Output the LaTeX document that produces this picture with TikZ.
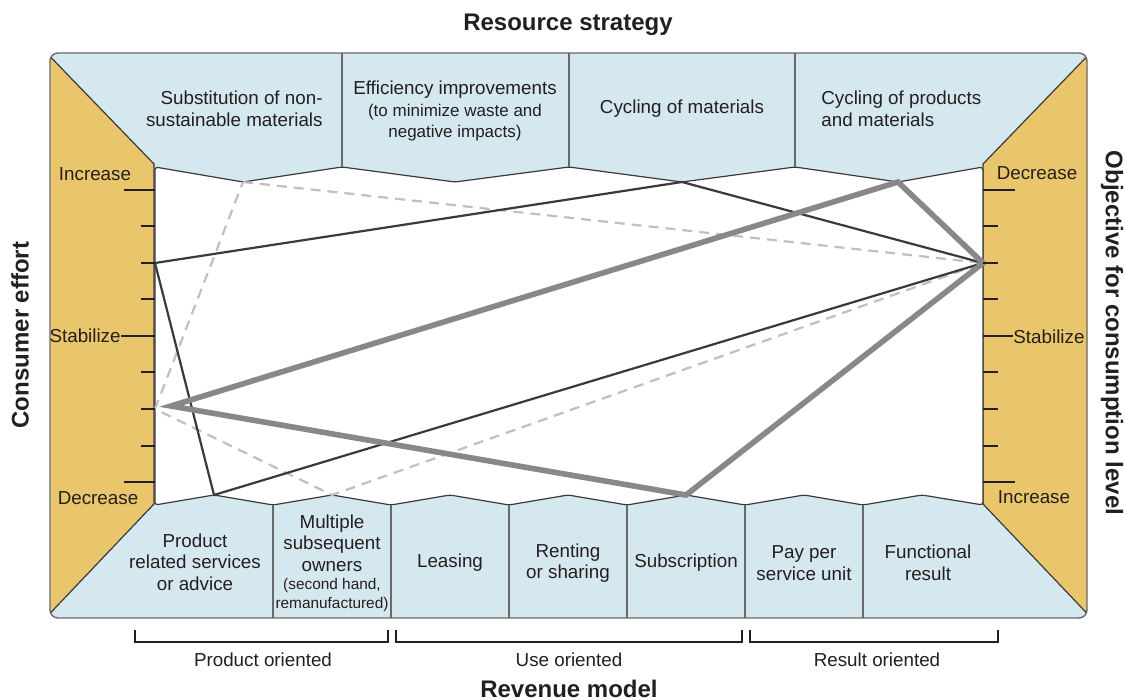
\documentclass[tikz,border=0pt]{standalone}
\usepackage{fontspec}
\setmainfont{Liberation Sans}
\definecolor{bandblue}{RGB}{214,232,239}
\definecolor{effortgold}{RGB}{233,198,107}
\definecolor{framegray}{RGB}{105,105,105}
\definecolor{darkline}{RGB}{58,58,58}
\definecolor{thickgray}{RGB}{136,136,136}
\definecolor{dashgray}{RGB}{192,192,192}
\definecolor{inkblack}{RGB}{35,31,32}

\begin{document}
\begin{tikzpicture}[x=0.5pt,y=-0.5pt,
	lbl/.style={font=\fontsize{9.4}{10.8}\selectfont,text=inkblack,align=center,inner sep=0pt,yshift=-1pt},
	axtitle/.style={font=\fontsize{12}{14}\bfseries\selectfont,text=inkblack,inner sep=0pt},
	sep/.style={draw=framegray,line width=0.6pt},
	tick/.style={draw=inkblack,line width=1pt},
	bracket/.style={draw=inkblack,line width=0.7pt},
	oldpath/.style={draw=dashgray,line width=1.1pt,dash pattern=on 5pt off 3.5pt,line join=round},
	basepath/.style={draw=darkline,line width=1.1pt,line join=round},
	newpath/.style={draw=thickgray,line width=2.8pt,line join=miter}]
	\useasboundingbox (0,0) rectangle (1125,700);
	\foreach \i in {0,...,8} {
		\coordinate (l\i) at (155,190+36.5*\i);
		\coordinate (r\i) at (983,190+36.5*\i);
	}
	\coordinate (t1) at (243,182);
	\coordinate (t2) at (455,182);
	\coordinate (t3) at (682,182);
	\coordinate (t4) at (898,182);
	\foreach \j in {1,...,7}
		\coordinate (b\j) at (96+118*\j,495);
	\coordinate (n6) at (171,406);
	\fill[bandblue,rounded corners=4pt] (50,53) rectangle (1087,618);
	\begin{scope}
		\clip[rounded corners=4pt] (50,53) rectangle (1087,618);
		\filldraw[fill=effortgold,draw=darkline,line width=0.6pt] (38,44) -- (154,164) -- (154,504) -- (38,626) -- cycle;
		\filldraw[fill=effortgold,draw=darkline,line width=0.6pt] (1099,44) -- (983,164) -- (983,504) -- (1099,626) -- cycle;
	\end{scope}
	\filldraw[fill=white,draw=darkline,line width=0.6pt,rounded corners=1.5pt] (155,167) -- (t1) -- (342,167) -- (t2) -- (569,167) -- (t3) -- (795,167) -- (t4) -- (983,167) -- (983,505) -- (b7) -- (863,505) -- (b6) -- (745,505) -- (b5) -- (627,505) -- (b4) -- (509,505) -- (b3) -- (391,505) -- (b2) -- (273,505) -- (b1) -- (155,505) -- cycle;
	\draw[framegray,line width=0.7pt,rounded corners=4pt] (50,53) rectangle (1087,618);
	\foreach \x in {342,569,795}
		\draw[sep] (\x,53) -- (\x,167);
	\foreach \x in {273,391,...,863}
		\draw[sep] (\x,505) -- (\x,618);
	\draw[oldpath] (t1) -- (r2) -- (b2) -- (l6) -- cycle;
	\draw[basepath] (l2) -- (t3) -- (r2) -- (b1) -- cycle;
	\draw[newpath] (n6) -- (t4) -- (r2) -- (b5) -- cycle;
	\foreach \i in {1,2,3,5,6,7} {
		\draw[tick] (l\i) -- ++(-14,0);
		\draw[tick] (r\i) -- ++(15,0);
	}
	\draw[tick] (l0) -- ++(-31,0);
	\draw[tick] (l8) -- ++(-31,0);
	\draw[tick] (r0) -- ++(32,0);
	\draw[tick] (r8) -- ++(32,0);
	\path (95,172) node (lincr) [lbl] {Increase};
	\path (121,334) node (lstab) [lbl,anchor=east] {Stabilize};
	\path (98,496) node (ldecr) [lbl] {Decrease};
	\path (1037,171) node (rdecr) [lbl] {Decrease};
	\path (1013,335) node (rstab) [lbl,anchor=west] {Stabilize};
	\path (1034,495) node (rincr) [lbl] {Increase};
	\draw[tick] (l4) -- (lstab.east |- l4);
	\draw[tick] (r4) -- (rstab.west |- r4);
	\path (323,107) node (subst) [lbl,anchor=east,align=right] {Substitution of non-\\sustainable materials};
	\path (455,109) node (effic) [lbl] {Efficiency improvements\\{\fontsize{8.5}{10}\selectfont (to minimize waste and}\\{\fontsize{8.5}{10}\selectfont negative impacts)}};
	\path (682,107) node (cyclm) [lbl] {Cycling of materials};
	\path (821,107) node (cyclp) [lbl,anchor=west,align=left] {Cycling of products\\and materials};
	\path (195,560) node (prodserv) [lbl] {Product\\related services\\or advice};
	\path (332,561) node (multi) [lbl] {Multiple\\subsequent\\owners\\[-1.5pt]{\fontsize{7.7}{9}\selectfont (second hand,}\\[-1.5pt]{\fontsize{7.7}{9}\selectfont remanufactured)}};
	\path (450,561) node (leasing) [lbl] {Leasing};
	\path (568,561) node (renting) [lbl] {Renting\\or sharing};
	\path (686,561) node (subscr) [lbl] {Subscription};
	\path (804,561) node (payper) [lbl] {Pay per\\service unit};
	\path (928,561) node (funcres) [lbl] {Functional\\result};
	\draw[bracket] (135,630) -- (135,642) -- (388,642) -- (388,630);
	\draw[bracket] (396,630) -- (396,642) -- (742,642) -- (742,630);
	\draw[bracket] (750,630) -- (750,642) -- (998,642) -- (998,630);
	\path (263,658) node (prodor) [lbl] {Product oriented};
	\path (569,658) node (useor) [lbl] {Use oriented};
	\path (877,658) node (resor) [lbl] {Result oriented};
	\path (568,23) node (resstrat) [axtitle,yshift=-1pt] {Resource strategy};
	\path (569,689) node (revmodel) [axtitle] {Revenue model};
	\path (20,335) node (effort) [axtitle,rotate=90] {Consumer effort};
	\path (1112,333) node (objective) [axtitle,rotate=-90] {Objective for consumption level};
\end{tikzpicture}
\end{document}
